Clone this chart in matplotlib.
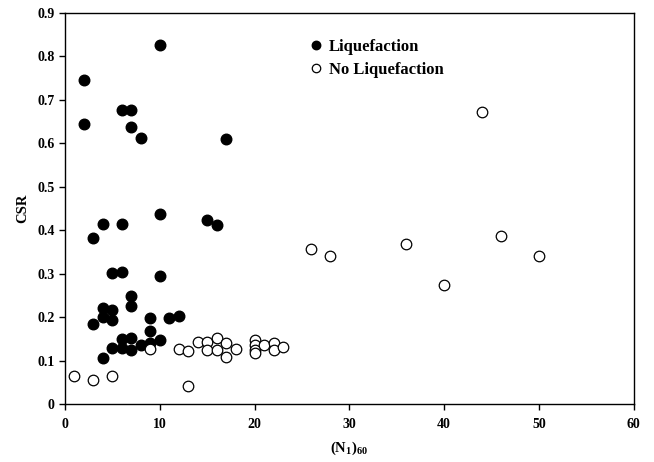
import matplotlib
matplotlib.use("Agg")
import matplotlib.pyplot as plt

# Liquefaction cases
liq_n = [2, 2, 10, 6, 7, 7, 8, 17,
         3, 4, 6, 10, 15, 16,
         5, 6, 10,
         7, 7, 4, 5, 4, 5, 3,
         9, 11, 12, 9,
         6, 7, 6, 7, 5, 4, 8, 9, 10]
liq_csr = [0.745, 0.644, 0.826, 0.676, 0.676, 0.638, 0.613, 0.610,
           0.381, 0.414, 0.414, 0.437, 0.423, 0.412,
           0.302, 0.305, 0.295,
           0.249, 0.226, 0.222, 0.216, 0.201, 0.193, 0.184,
           0.197, 0.197, 0.203, 0.168,
           0.149, 0.151, 0.128, 0.124, 0.128, 0.107, 0.136, 0.140, 0.147]

# No liquefaction cases
noliq_n = [1, 3, 5, 13, 9, 12, 13, 14, 15, 15, 16, 16, 17, 17, 18,
           20, 20, 20, 20, 21, 22, 22, 23,
           26, 28, 36, 40, 44, 46, 50]
noliq_csr = [0.064, 0.055, 0.065, 0.042, 0.126, 0.127, 0.121, 0.142, 0.143, 0.124,
             0.151, 0.124, 0.140, 0.109, 0.127,
             0.147, 0.136, 0.124, 0.117, 0.136, 0.141, 0.124, 0.132,
             0.356, 0.340, 0.368, 0.275, 0.673, 0.387, 0.341]

plt.rcParams["font.family"] = ["Liberation Serif", "DejaVu Serif"]
plt.rcParams["font.weight"] = "bold"
plt.rcParams["mathtext.fontset"] = "custom"
plt.rcParams["mathtext.rm"] = "Liberation Serif:bold"
plt.rcParams["mathtext.bf"] = "Liberation Serif:bold"
plt.rcParams["mathtext.it"] = "Liberation Serif:bold"

fig = plt.figure(figsize=(6.54, 4.62), dpi=100)
ax = fig.add_axes([0.0994, 0.1255, 0.8696, 0.8464])

ax.plot(liq_n, liq_csr, "o", color="black", markersize=7.6,
        label="Liquefaction", zorder=3)
ax.plot(noliq_n, noliq_csr, "o", markerfacecolor="white", markeredgecolor="black",
        markeredgewidth=0.9, markersize=7.6, label="No Liquefaction", zorder=4)

ax.set_xlim(0, 60)
ax.set_ylim(0, 0.9)
ax.set_xticks(range(0, 61, 10))
ax.set_yticks([i / 10 for i in range(10)])
ax.set_yticklabels(["0"] + [f"{i / 10:.1f}" for i in range(1, 10)])

ax.tick_params(direction="out", length=4, width=1, labelsize=10, top=False, right=False)
ax.tick_params(axis="x", pad=6)
for lab in ax.get_xticklabels() + ax.get_yticklabels():
    lab.set_fontweight("bold")
for s in ax.spines.values():
    s.set_linewidth(1.0)

ax.set_xlabel("(N$_\\mathrm{1}$)$_\\mathrm{60}$", fontsize=10.5, fontweight="bold", labelpad=6)
ax.set_ylabel("CSR", fontsize=10.5, fontweight="bold", labelpad=6)

leg = ax.legend(loc="upper left", bbox_to_anchor=(0.418, 0.955), frameon=False,
                fontsize=12, handlelength=0.6, handletextpad=0.45, borderpad=0,
                labelspacing=0.4, markerscale=0.8)
for t in leg.get_texts():
    t.set_fontweight("bold")

fig.savefig("out.png", dpi=100)
